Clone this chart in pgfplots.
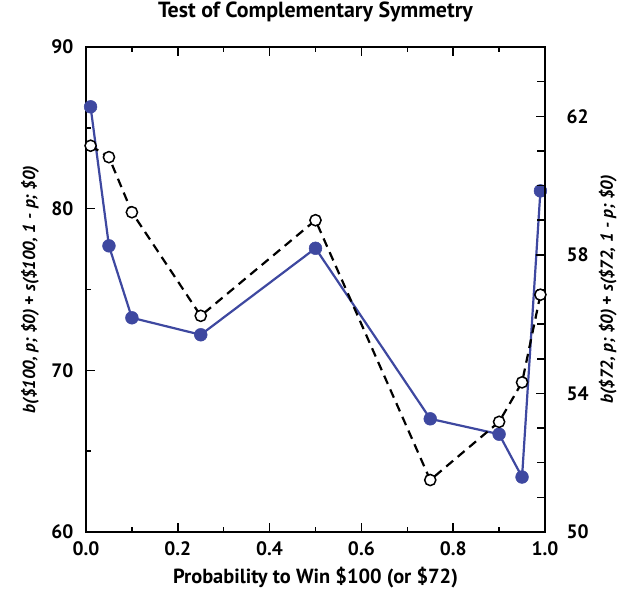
\documentclass[border=0pt]{standalone}
\usepackage{fontspec}
\setmainfont{PT Sans}
\usepackage{pgfplots}
\pgfplotsset{compat=1.18}
\definecolor{myblue}{RGB}{62,72,160}
\begin{document}
\begin{tikzpicture}
\pgfplotsset{
  common/.style={
    width=459bp, height=485bp, scale only axis,
    at={(0,0)}, anchor=south west,
    xmin=0, xmax=1,
    /pgf/number format/assume math mode=true,
    tick align=inside,
    axis line style={line width=1.8bp},
    every tick/.style={black, line width=1.5bp},
    major tick length=9bp, minor tick length=5bp,
    ticklabel style={font=\bfseries\fontsize{19.5}{19.5}\selectfont},
    label style={font=\bfseries\fontsize{20.5}{20.5}\selectfont},
    clip=false,
  }
}
\begin{axis}[common,
  ymin=60, ymax=90,
  xtick={0,0.2,...,1.0}, minor xtick={0.1,0.3,0.5,0.7,0.9},
  xticklabels={0.0,0.2,0.4,0.6,0.8,1.0},
  xtick pos=both,
  ytick={60,70,80,90}, minor ytick={65,75,85},
  ytick pos=left,
  xticklabel style={anchor=center, yshift=-17bp},
  yticklabel style={anchor=east, xshift=-9bp},
  title={Test of Complementary Symmetry},
  title style={font=\bfseries\fontsize{22}{22}\selectfont, at={(axis description cs:0.5,1)}, anchor=center, yshift=29bp},
  xlabel={Probability to Win \$100 (or \$72)},
  xlabel style={at={(axis description cs:0.5,0)}, anchor=center, yshift=-46bp},
  ylabel={b(\$100, p; \$0) + s(\$100, 1 - p; \$0)},
  ylabel style={font=\bfseries\itshape\fontsize{17.5}{17.5}\selectfont, at={(axis description cs:-0.122,0.5)}, anchor=center},
]
\addplot[myblue, line width=2.2bp, mark=*, mark size=6.4bp, mark options={fill=myblue, draw=myblue, line width=0.5bp}] coordinates {
(0.01,86.3) (0.05,77.7) (0.10,73.25) (0.25,72.2) (0.50,77.55) (0.75,67.0) (0.90,66.05) (0.95,63.4) (0.99,81.1)
};
\end{axis}
\begin{axis}[common,
  ymin=50, ymax=64,
  hide x axis,
  axis y line*=right,
  ytick={50,54,58,62}, minor ytick={51,52,53,55,56,57,59,60,61,63},
  minor tick length=8bp, major tick length=9bp,
  ytick pos=right,
  yticklabel style={anchor=west, xshift=18bp},
  ylabel={b(\$72, p; \$0) + s(\$72, 1 - p; \$0)},
  ylabel style={font=\bfseries\itshape\fontsize{17.5}{17.5}\selectfont, at={(axis description cs:1.137,0.5)}, anchor=center},
]
\addplot[black, line width=2.2bp, dash pattern=on 9bp off 6bp, mark=*, mark size=5.6bp, mark options={solid, fill=white, draw=black, line width=1.5bp}] coordinates {
(0.01,61.15) (0.05,60.82) (0.10,59.23) (0.25,56.24) (0.50,59.0) (0.75,51.5) (0.90,53.18) (0.95,54.32) (0.99,56.85)
};
\end{axis}
\pgfresetboundingbox
\path (-86bp,-60bp) rectangle (546bp,532bp);
\end{tikzpicture}
\end{document}
